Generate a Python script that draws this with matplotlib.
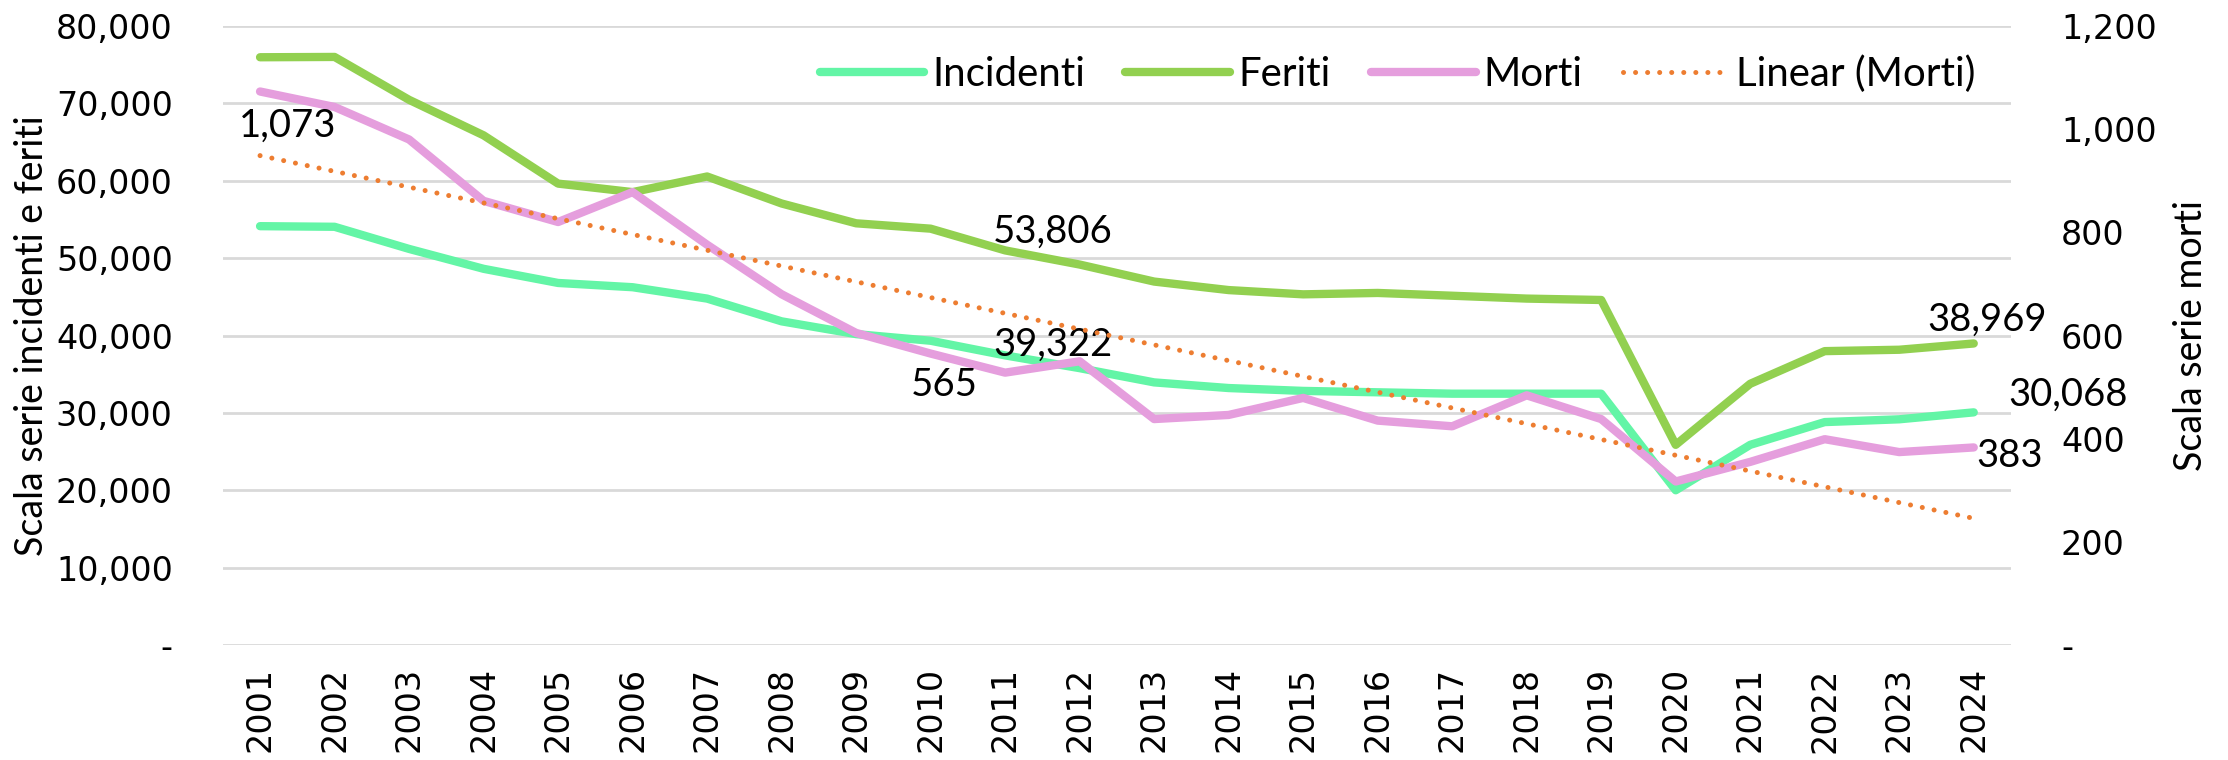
import numpy as np
import matplotlib
matplotlib.use("Agg")
import matplotlib.pyplot as plt
from matplotlib.ticker import FuncFormatter, MultipleLocator

years = [str(y) for y in range(2001, 2025)]
incidenti = [54130, 54050, 51190, 48620, 46790, 46240, 44770, 41830, 40180, 39322,
             37430, 35780, 33940, 33210, 32840, 32660, 32480, 32480, 32480, 20000,
             25870, 28810, 29170, 30068]
feriti = [75960, 76000, 70460, 65870, 59630, 58530, 60550, 57060, 54500, 53806,
          51000, 49170, 46970, 45870, 45320, 45500, 45140, 44770, 44590, 25870,
          33760, 37980, 38160, 38969]
morti = [1073, 1043, 980, 861, 820, 878, 776, 680, 605, 565,
         528, 550, 438, 446, 479, 435, 424, 484, 438, 317,
         355, 399, 374, 383]

C_INC = "#63F5A6"
C_FER = "#92D050"
C_MOR = "#E59EDD"
C_TR = "#ED7D31"
LBL_FONT = ["Lato", "DejaVu Sans"]
TICK_FONT = ["DejaVu Sans"]

fig = plt.figure(figsize=(22.28, 7.6), dpi=100)
ax = fig.add_axes([0.100, 0.1513, 0.8026, 0.8145])
ax2 = ax.twinx()

x = np.arange(len(years))
l1, = ax.plot(x, incidenti, color=C_INC, lw=6, solid_capstyle="round", label="Incidenti", zorder=3)
l2, = ax.plot(x, feriti, color=C_FER, lw=6, solid_capstyle="round", label="Feriti", zorder=3)
l3, = ax2.plot(x, morti, color=C_MOR, lw=6, solid_capstyle="round", label="Morti", zorder=3)
coef = np.polyfit(x + 1, morti, 1)
trend = np.polyval(coef, x + 1)
l4, = ax2.plot(x, trend, color=C_TR, lw=3.6, linestyle=(0, (0.01, 2.4)),
               dash_capstyle="round", label="Linear (Morti)", zorder=4)

ax.set_xlim(-0.5, len(years) - 0.5)
ax.set_ylim(0, 80000)
ax2.set_ylim(0, 1200)
ax.yaxis.set_major_locator(MultipleLocator(10000))
ax2.yaxis.set_major_locator(MultipleLocator(200))
fmt = FuncFormatter(lambda v, p: "-" if v == 0 else f"{v:,.0f}")
ax.yaxis.set_major_formatter(fmt)
ax2.yaxis.set_major_formatter(fmt)
ax.set_xticks(x)
ax.set_xticklabels(years, rotation=90)

for a in (ax, ax2):
    for s in a.spines.values():
        s.set_visible(False)
ax.grid(axis="y", color="#D9D9D9", lw=2)
ax.set_axisbelow(True)
ax.tick_params(axis="y", length=0, pad=36, labelsize=24)
ax2.tick_params(axis="y", length=0, pad=36, labelsize=24)
ax.tick_params(axis="x", length=0, pad=16, labelsize=24)
for lab in ax.get_xticklabels() + ax.get_yticklabels() + ax2.get_yticklabels():
    lab.set_family(TICK_FONT)

ax.set_ylabel("Scala serie incidenti e feriti", family=LBL_FONT, fontsize=27)
ax2.set_ylabel("Scala serie morti", family=LBL_FONT, fontsize=27)
ax.yaxis.set_label_coords(-0.0968, 0.5)
ax2.yaxis.set_label_coords(1.0906, 0.5)

ann = dict(textcoords="offset pixels", ha="center", va="center", family=LBL_FONT, fontsize=27.5, zorder=6)
ax2.annotate(f"{morti[0]:,}", (x[0], morti[0]), xytext=(28, -34), **ann)
ax.annotate(f"{feriti[9]:,}", (x[9], feriti[9]), xytext=(122, -3), **ann)
ax.annotate(f"{incidenti[9]:,}", (x[9], incidenti[9]), xytext=(122, -4), **ann)
ax2.annotate(f"{morti[9]:,}", (x[9], morti[9]), xytext=(14, -31), **ann)
ax.annotate(f"{feriti[-1]:,}", (x[-1], feriti[-1]), xytext=(13, 24), **ann)
ax.annotate(f"{incidenti[-1]:,}", (x[-1], incidenti[-1]), xytext=(94, 18), **ann)
ax2.annotate(f"{morti[-1]:,}", (x[-1], morti[-1]), xytext=(36, -9), **ann)

leg = fig.legend(handles=[l1, l2, l3, l4], loc="center right",
                 bbox_to_anchor=(1975 / 2228, 1 - 74 / 760), ncol=4, frameon=False,
                 prop={"family": LBL_FONT, "size": 29}, handlelength=2.6,
                 handletextpad=0.2, columnspacing=1.0, borderpad=0, borderaxespad=0)

fig.savefig("out.png", dpi=100, facecolor="white")
